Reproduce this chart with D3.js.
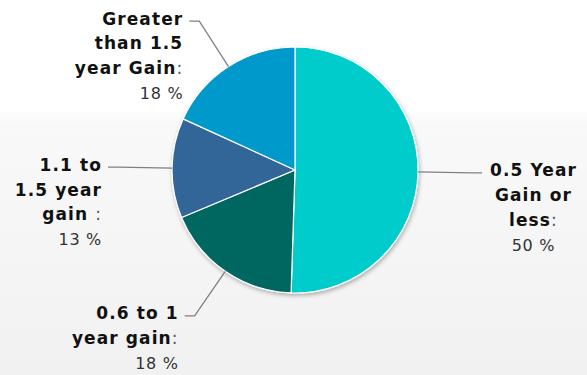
<!DOCTYPE html>
<html>
<head>
<meta charset="utf-8">
<script src="https://cdn.jsdelivr.net/npm/d3@7"></script>
<style>
  html, body { margin: 0; padding: 0; background: #fff; }
  svg { display: block; }
</style>
</head>
<body>
<svg id="chart" width="587" height="375"></svg>
<script>
// Share of students by amount of gain
const categories = ["0.5 Year Gain or less", "0.6 to 1 year gain", "1.1 to 1.5 year gain ", "Greater than 1.5 year Gain"];
const values = [50, 18, 13, 18];
const labelLines = [
  ["0.5 Year", "Gain or", "less"],
  ["0.6 to 1", "year gain"],
  ["1.1 to", "1.5 year", "gain "],
  ["Greater", "than 1.5", "year Gain"]
];
const colors = ["#00cccc", "#006661", "#336699", "#0099cc"];

const W = 587, H = 375;
const cx = 295, cy = 170, R = 123, labelDist = 54;

const svg = d3.select("#chart");
const defs = svg.append("defs");

const bg = defs.append("linearGradient").attr("id", "bg").attr("x1", 0).attr("y1", 0).attr("x2", 0).attr("y2", 1);
bg.append("stop").attr("offset", "0").attr("stop-color", "#ffffff");
bg.append("stop").attr("offset", "0.29").attr("stop-color", "#ffffff");
bg.append("stop").attr("offset", "0.33").attr("stop-color", "#f9f9f9");
bg.append("stop").attr("offset", "1").attr("stop-color", "#f1f1f1");

const shadow = defs.append("filter").attr("id", "shadow").attr("x", "-20%").attr("y", "-20%").attr("width", "140%").attr("height", "140%");
shadow.append("feDropShadow").attr("dx", 1).attr("dy", 2).attr("stdDeviation", 2)
  .attr("flood-color", "#000").attr("flood-opacity", 0.3);

svg.append("rect").attr("width", W).attr("height", H).attr("fill", "url(#bg)");

const pie = d3.pie().sort(null).value(d => d);
const arcs = pie(values);
const arc = d3.arc().innerRadius(0).outerRadius(R);

const g = svg.append("g").attr("transform", `translate(${cx},${cy})`);
g.append("g").attr("filter", "url(#shadow)")
  .selectAll("path").data(arcs).join("path")
  .attr("d", arc)
  .attr("fill", (d, i) => colors[i])
  .attr("stroke", "#ffffff")
  .attr("stroke-width", 1.2)
  .attr("stroke-linejoin", "round");

// Data labels with elbow connectors
const fontFamily = "'DejaVu Sans', Verdana, sans-serif";
const lineH = 24.8;
const labels = svg.append("g");

arcs.forEach((a, i) => {
  const mid = (a.startAngle + a.endAngle) / 2;
  const sx = Math.sin(mid), sy = -Math.cos(mid);
  const edgeX = cx + R * sx, edgeY = cy + R * sy;
  const Rl = R + labelDist;
  const ly = cy + Rl * sy;
  const left = sx < 0;
  const dir = left ? -1 : 1;
  const breakX = cx + dir * Math.sqrt(Math.max(0, Rl * Rl - (ly - cy) * (ly - cy)));

  labels.append("path")
    .attr("d", `M${breakX + dir * 10},${ly}L${breakX},${ly}L${edgeX},${edgeY}`)
    .attr("fill", "none")
    .attr("stroke", "#808080")
    .attr("stroke-width", 1.3);

  const lines = labelLines[i];
  const t = labels.append("text")
    .attr("font-family", fontFamily)
    .attr("font-size", 17)
    .attr("letter-spacing", "1.1px");
  const baseY = ly + 3.6;
  const rows = [];
  lines.forEach((ln, k) => {
    const row = t.append("tspan").attr("y", baseY + k * lineH);
    row.append("tspan").attr("font-weight", "bold").attr("fill", "#111").text(ln);
    if (k === lines.length - 1) {
      row.append("tspan").attr("fill", "#555").text(":");
    }
    rows.push(row);
  });
  const vrow = t.append("tspan").attr("y", baseY + lines.length * lineH)
    .attr("fill", "#333").attr("font-size", 16).attr("letter-spacing", "0.7px")
    .text(values[i] + " %");
  rows.push(vrow);

  if (left) {
    const rightEdge = breakX - 16;
    rows.forEach(r => r.attr("x", rightEdge).attr("text-anchor", "end"));
  } else {
    const widths = rows.map(r => r.node().getComputedTextLength());
    const maxW = d3.max(widths);
    const center = breakX + 18 + maxW / 2;
    rows.forEach(r => r.attr("x", center).attr("text-anchor", "middle"));
  }
});
</script>
</body>
</html>
